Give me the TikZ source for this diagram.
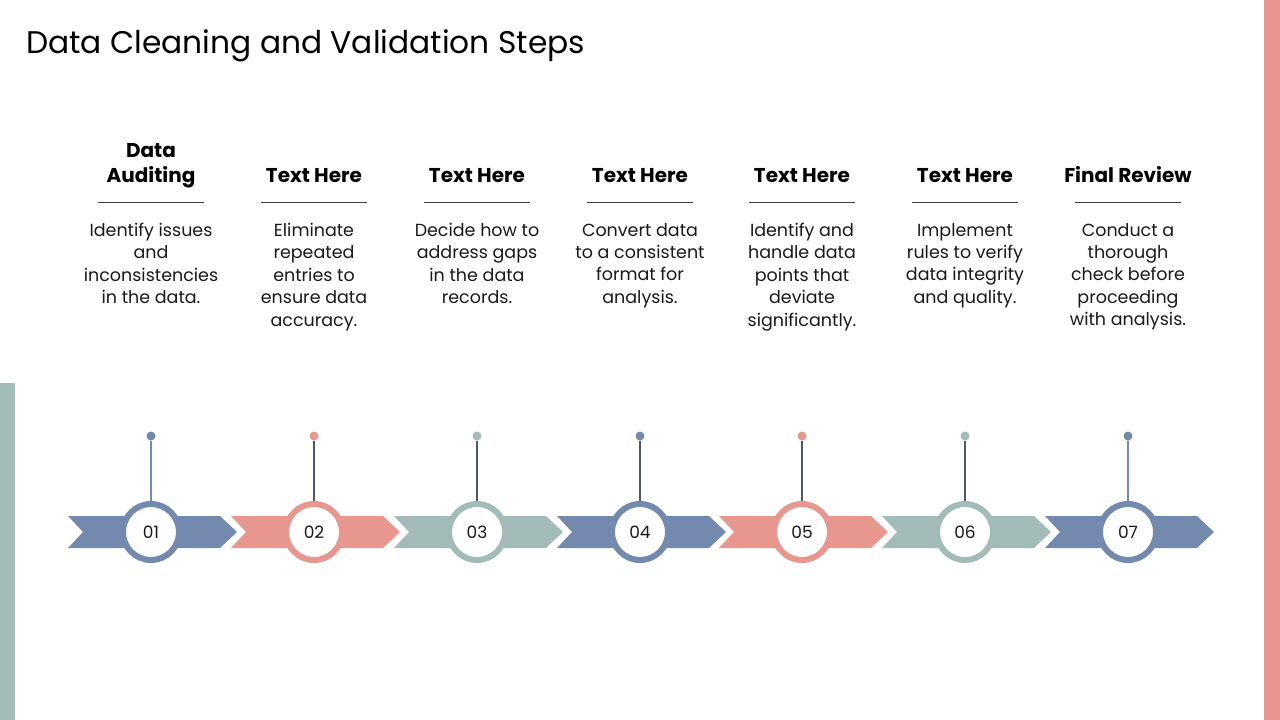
\documentclass[tikz,border=0pt]{standalone}
\usepackage{fontspec}
\setmainfont{Poppins}
\definecolor{cblue}{HTML}{7389AE}
\definecolor{cpink}{HTML}{E8978F}
\definecolor{csage}{HTML}{A3BCBA}
\definecolor{stemdark}{HTML}{4E5966}
\definecolor{txt}{HTML}{1A1A1A}
\tikzset{
  chev/.style={fill=#1, draw=none},
  ring/.style={circle, fill=white, draw=#1, line width=6pt, minimum size=56pt, inner sep=0pt,
    font=\fontsize{17}{20}\selectfont, text=txt},
  pin/.style={circle, fill=#1, draw=none, minimum size=9pt, inner sep=0pt},
  stem/.style={draw=#1, line width=1.4pt},
  head/.style={font=\fontsize{20}{25}\selectfont\bfseries, text=black, align=center, anchor=base, inner sep=0pt},
  body/.style={font=\fontsize{17.5}{22.4}\selectfont, text=txt, align=center, anchor=north, inner sep=0pt},
  rule/.style={draw=black!75, line width=0.9pt}
}
\begin{document}
\begin{tikzpicture}[x=1pt,y=-1pt]
\useasboundingbox (0,0) rectangle (1280,720);
\fill[white] (0,0) rectangle (1280,720);
% side bars
\fill[csage] (0,383) rectangle (15,720);
\fill[cpink] (1264,0) rectangle (1280,720);
% title
\node[anchor=west, font=\fontsize{31.3}{37}\selectfont, text=black, inner sep=0pt] (title) at (26,46) {Data Cleaning and Validation Steps};
% steps
\foreach \i/\c/\col/\sc/\hd/\bd in {
  1/151/cblue/cblue/{Data\\Auditing}/{Identify issues\\and\\inconsistencies\\in the data.},
  2/314/cpink/stemdark/{Text Here}/{Eliminate\\repeated\\entries to\\ensure data\\accuracy.},
  3/477/csage/stemdark/{Text Here}/{Decide how to\\address gaps\\in the data\\records.},
  4/640/cblue/stemdark/{Text Here}/{Convert data\\to a consistent\\format for\\analysis.},
  5/802/cpink/stemdark/{Text Here}/{Identify and\\handle data\\points that\\deviate\\significantly.},
  6/965/csage/stemdark/{Text Here}/{Implement\\rules to verify\\data integrity\\and quality.},
  7/1128/cblue/cblue/{Final Review}/{Conduct a\\thorough\\check before\\proceeding\\with analysis.}}{
  \fill[chev=\col] (\c-83,516) -- (\c+69,516) -- (\c+86,532) -- (\c+69,548) -- (\c-83,548) -- (\c-68,532) -- cycle;
  \node[ring=\col] (c\i) at (\c,532) {0\i};
  \node[pin=\col] (d\i) at (\c,436) {};
  \draw[stem=\sc] (d\i) -- (c\i);
  \node[head] (h\i) at (\c,182) {\hd};
  \coordinate (ra\i) at (\c-53,202);
  \coordinate (rb\i) at (\c+53,202);
  \draw[rule] (ra\i) -- (rb\i);
  \node[body] (b\i) at (\c,223) {\bd};
}
\end{tikzpicture}
\end{document}
